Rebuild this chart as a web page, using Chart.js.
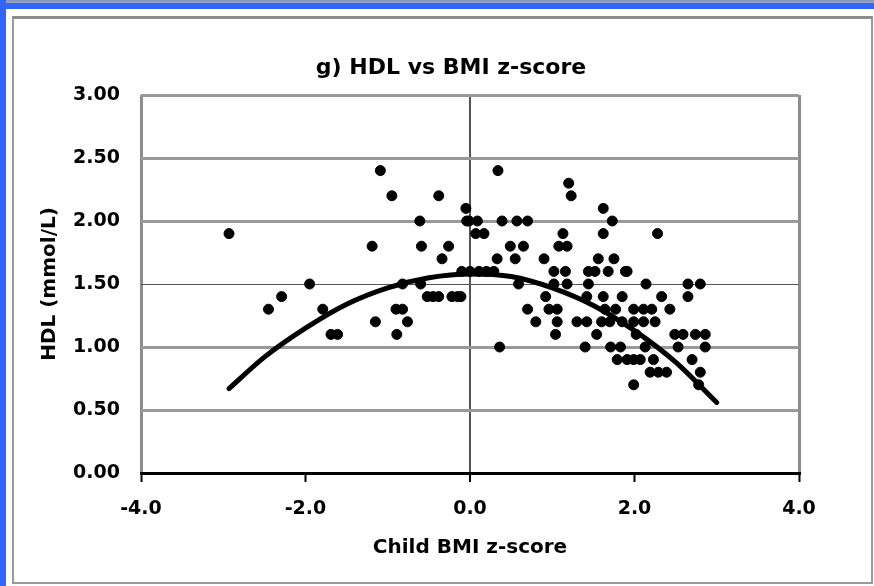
<!DOCTYPE html>
<html>
<head>
<meta charset="utf-8">
<script src="https://cdn.jsdelivr.net/npm/chart.js@4"></script>
<style>
  html, body { margin: 0; padding: 0; background: #fff; }
  #wrap { position: relative; width: 874px; height: 586px; overflow: hidden; background: #fff; }
  .topbar { position: absolute; left: 0; top: 0; width: 874px; height: 9px;
            background: linear-gradient(to bottom, #7f95bd 0, #9aaac4 3px, #3366ff 3px, #3366ff 9px); }
  .leftbar { position: absolute; left: 0; top: 0; width: 6px; height: 586px; background: #3366ff; }
  .frame { position: absolute; left: 12px; top: 16px; width: 857px; height: 563px;
           border: 2px solid #9a9a9a; border-top: 3px solid #8c8c8c; }
  canvas { position: absolute; left: 0; top: 0; }
</style>
</head>
<body>
<div id="wrap">
  <div class="topbar"></div>
  <div class="leftbar"></div>
  <div class="frame"></div>
  <canvas id="chart" width="874" height="586"></canvas>
</div>
<script>
// child BMI z-score / HDL pairs
var bmiZ = [
  -2.93, -2.45, -2.29, -1.95, -1.79, -1.69, -1.61, -1.19, -1.15, -1.09,
  -0.95, -0.90, -0.89, -0.82, -0.82, -0.76, -0.61, -0.59, -0.60, -0.52,
  -0.45, -0.38, -0.38, -0.34, -0.26, -0.22, -0.15, -0.11, -0.05, -0.04,
  -0.10, 0.00, 0.11, 0.20, 0.29, -0.01, 0.09, 0.39, 0.57, 0.70,
  0.07, 0.17, 0.34, 0.33, 0.55, 0.90, 0.49, 0.65, 0.59, 0.36,
  0.70, 0.80, 0.92, 0.96, 1.06, 1.02, 1.16, 1.02, 1.18, 1.06,
  1.04, 1.08, 1.18, 1.13, 1.20, 1.23, 1.30, 1.42, 1.40, 1.42,
  1.44, 1.44, 1.52, 1.54, 1.56, 1.60, 1.62, 1.62, 1.62, 1.64,
  1.68, 1.71, 1.73, 1.75, 1.77, 1.79, 1.83, 1.85, 1.89, 1.91,
  1.70, 2.28, 1.91, 2.14, 2.65, 2.80, 2.33, 2.65, 1.99, 2.11,
  2.21, 2.43, 1.85, 1.99, 2.11, 2.25, 2.02, 2.49, 2.59, 2.74,
  2.86, 2.13, 2.53, 2.86, 1.99, 2.07, 2.23, 2.70, 2.19, 2.29,
  2.39, 2.80, 1.99, 2.78
];
var hdl = [
  1.90, 1.30, 1.40, 1.50, 1.30, 1.10, 1.10, 1.80, 1.20, 2.40,
  2.20, 1.30, 1.10, 1.30, 1.50, 1.20, 2.00, 1.80, 1.50, 1.40,
  1.40, 1.40, 2.20, 1.70, 1.80, 1.40, 1.40, 1.40, 2.10, 2.00,
  1.60, 1.60, 1.60, 1.60, 1.60, 2.00, 2.00, 2.00, 2.00, 2.00,
  1.90, 1.90, 2.40, 1.70, 1.70, 1.70, 1.80, 1.80, 1.50, 1.00,
  1.30, 1.20, 1.40, 1.30, 1.30, 1.60, 1.60, 1.50, 1.50, 1.20,
  1.10, 1.80, 1.80, 1.90, 2.30, 2.20, 1.20, 1.20, 1.00, 1.40,
  1.50, 1.60, 1.60, 1.10, 1.70, 1.20, 2.10, 1.90, 1.40, 1.30,
  1.60, 1.00, 2.00, 1.70, 1.30, 0.90, 1.00, 1.40, 1.60, 0.90,
  1.20, 1.90, 1.60, 1.50, 1.50, 1.50, 1.40, 1.40, 1.30, 1.30,
  1.30, 1.30, 1.20, 1.20, 1.20, 1.20, 1.10, 1.10, 1.10, 1.10,
  1.10, 1.00, 1.00, 1.00, 0.90, 0.90, 0.90, 0.90, 0.80, 0.80,
  0.80, 0.80, 0.70, 0.70
];

// fitted trend curve
var trendZ   = [-2.93, -2.5, -2.0, -1.5, -1.0, -0.5, 0.0, 0.5, 1.0, 1.5, 2.0, 2.5, 3.0];
var trendHdl = [0.67, 0.92, 1.15, 1.34, 1.47, 1.55, 1.58, 1.56, 1.47, 1.33, 1.13, 0.88, 0.56];

var xTickLabels = ['-4.0', '-2.0', '0.0', '2.0', '4.0'];
var yTickLabels = ['0.00', '0.50', '1.00', '1.50', '2.00', '2.50', '3.00'];

var chartTitle = 'g) HDL vs BMI z-score';
var xTitle = 'Child BMI z-score';
var yTitle = 'HDL (mmol/L)';

var font = 'DejaVu Sans';

var points = bmiZ.map(function (x, i) { return { x: x, y: hdl[i] }; });
var trend = trendZ.map(function (x, i) { return { x: x, y: trendHdl[i] }; });

var titlePlugin = {
  id: 'excelTitle',
  afterDraw: function (chart) {
    var ctx = chart.ctx;
    ctx.save();
    ctx.font = 'bold 22px "' + font + '"';
    ctx.fillStyle = '#000';
    ctx.textAlign = 'center';
    ctx.textBaseline = 'middle';
    ctx.fillText(chartTitle, 451, 68);
    ctx.restore();
  }
};

new Chart(document.getElementById('chart'), {
  type: 'scatter',
  data: {
    datasets: [{
      data: points,
      backgroundColor: '#000',
      borderColor: '#000',
      borderWidth: 1,
      pointRadius: 5,
      pointStyle: 'circle'
    }, {
      data: trend,
      showLine: true,
      borderColor: '#000',
      borderWidth: 5,
      cubicInterpolationMode: 'monotone',
      pointRadius: 0,
      borderCapStyle: 'round'
    }]
  },
  options: {
    responsive: false,
    animation: false,
    layout: { padding: { left: 0, right: 75, top: 95, bottom: 4 } },
    plugins: {
      legend: { display: false },
      tooltip: { enabled: false }
    },
    scales: {
      x: {
        type: 'linear',
        min: -4, max: 4,
        afterFit: function (scale) { scale.height = 109; },
        ticks: {
          stepSize: 2,
          color: '#000',
          padding: 16,
          font: { family: font, size: 19, weight: 'bold' },
          callback: function (v, i) { return xTickLabels[i]; }
        },
        grid: {
          color: function (c) {
            if (c.tick.value === 0) return '#555';
            if (c.tick.value === -4 || c.tick.value === 4) return '#8c8c8c';
            return 'rgba(0,0,0,0)';
          },
          lineWidth: function (c) { return c.tick.value === 0 ? 2 : 3; },
          tickColor: '#000',
          tickWidth: 2,
          tickLength: 9
        },
        border: { display: true, color: '#000', width: 3 },
        title: {
          display: true,
          text: xTitle,
          color: '#000',
          font: { family: font, size: 20, weight: 'bold' },
          padding: { top: 0, bottom: 22 }
        }
      },
      y: {
        min: 0, max: 3,
        afterFit: function (scale) { scale.width = 141; },
        ticks: {
          stepSize: 0.5,
          color: '#000',
          padding: 21,
          font: { family: font, size: 19, weight: 'bold' },
          callback: function (v, i) { return yTickLabels[i]; }
        },
        grid: {
          drawTicks: false,
          color: function (c) {
            if (c.tick.value === 0) return 'rgba(0,0,0,0)';
            if (c.tick.value === 1.5) return '#555';
            return '#999';
          },
          lineWidth: function (c) { return c.tick.value === 1.5 ? 1 : 3; }
        },
        border: { display: false },
        title: {
          display: true,
          text: yTitle,
          color: '#000',
          font: { family: font, size: 20, weight: 'bold' },
          padding: { top: 38, bottom: 0 }
        }
      }
    }
  },
  plugins: [titlePlugin]
});
</script>
</body>
</html>
